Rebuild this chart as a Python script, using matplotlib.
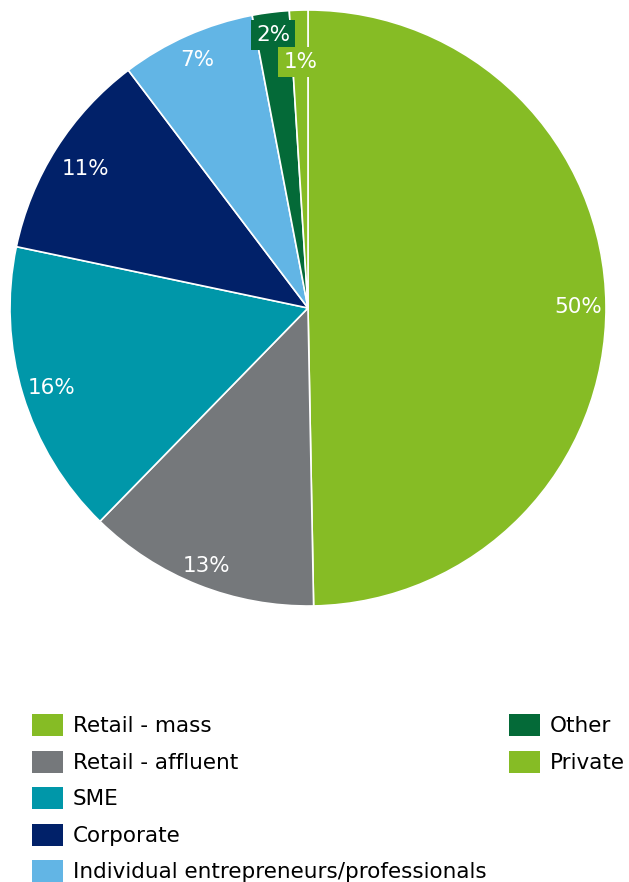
import numpy as np
import matplotlib.pyplot as plt
from matplotlib.patches import Patch

# datos del grafico
segmentos = ['Retail - mass', 'Retail - affluent', 'SME', 'Corporate',
             'Individual entrepreneurs/professionals', 'Other', 'Private']
valores = [49.7, 12.6, 16.0, 11.4, 7.3, 2.0, 1.0]
colores = ['#86BC25', '#75787B', '#0097A9', '#012169', '#62B5E5', '#046A38', '#86BC25']

# radio de cada etiqueta (estilo)
radio_etiqueta = [0.908, 0.925, 0.90, 0.886, 0.917, 0.93, 0.833]

W, H = 629, 882
fig = plt.figure(figsize=(W / 100, H / 100), dpi=100)
ax = fig.add_axes([10 / W, (H - 606) / H, 596 / W, 596 / H])

wedges, _ = ax.pie(valores, colors=colores, startangle=90, counterclock=False,
                   radius=1, wedgeprops=dict(edgecolor='white', linewidth=1.2))
ax.set_xlim(-1, 1)
ax.set_ylim(-1, 1)
ax.axis('off')

for i, w in enumerate(wedges):
    ang = np.deg2rad((w.theta1 + w.theta2) / 2)
    r = radio_etiqueta[i]
    x, y = r * np.cos(ang), r * np.sin(ang)
    texto = f"{round(valores[i])}%"
    bbox = None
    if valores[i] < 3:
        bbox = dict(boxstyle='square,pad=0.22', facecolor=colores[i], edgecolor='none')
    ax.text(x, y, texto, color='white', fontsize=15.5, ha='center',
            va='center_baseline', bbox=bbox)

# leyenda en dos bloques
h_izq = [Patch(facecolor=colores[i]) for i in range(5)]
h_der = [Patch(facecolor=colores[i]) for i in range(5, 7)]
opts = dict(frameon=False, fontsize=15.5, handlelength=1.44, handleheight=1.2,
            handletextpad=0.45, labelspacing=0.66, borderpad=0, borderaxespad=0,
            loc='upper left')
leg1 = fig.legend(h_izq, segmentos[:5], bbox_to_anchor=(32 / W, 1 - 714 / H), **opts)
leg2 = fig.legend(h_der, segmentos[5:], bbox_to_anchor=(509 / W, 1 - 714 / H), **opts)

fig.savefig('out.png', dpi=100)
